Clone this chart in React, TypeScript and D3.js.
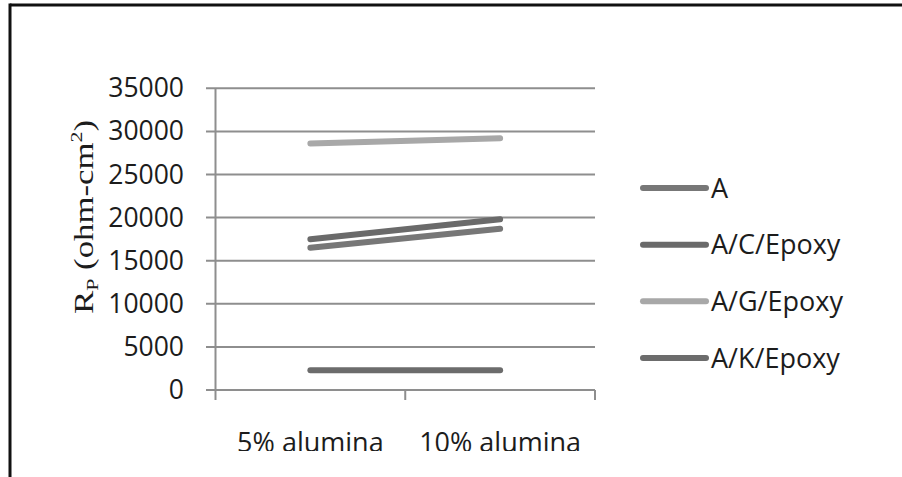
import React from "react";
import * as d3 from "d3";

// Polarization resistance by alumina loading
const categories = ["5% alumina", "10% alumina"];
const seriesNames = ["A", "A/C/Epoxy", "A/G/Epoxy", "A/K/Epoxy"];
const valuesA = [16500, 18700];
const valuesAC = [17500, 19800];
const valuesAG = [28600, 29200];
const valuesAK = [2300, 2300];
const yTicks = [0, 5000, 10000, 15000, 20000, 25000, 30000, 35000];
const seriesColors = ["#777777", "#6a6a6a", "#a8a8a8", "#6c6c6c"];

const W = 902;
const H = 477;

export default function App() {
  const x = d3.scaleBand<string>().domain(categories).range([215.5, 595]);
  const y = d3.scaleLinear().domain([0, 35000]).range([390, 88.3]);
  const line = d3
    .line<number>()
    .x((_, i) => (x(categories[i]) as number) + x.bandwidth() / 2)
    .y((v) => y(v));
  const allSeries = [valuesA, valuesAC, valuesAG, valuesAK];
  const legendY = d3.scalePoint<string>().domain(seriesNames).range([188, 358]);
  const textFill = "#1c1c1c";
  const font = "'Open Sans', sans-serif";

  return (
    <svg
      width={W}
      height={H}
      style={{ position: "absolute", left: 0, top: 0, background: "#fff" }}
    >
      <defs>
        <clipPath id="frameClip">
          <rect x={0} y={0} width={W} height={451} />
        </clipPath>
      </defs>
      <rect x={0} y={0} width={W} height={H} fill="#fff" />
      {/* frame */}
      <line x1={10} x2={W} y1={5} y2={5} stroke="#111" strokeWidth={3} />
      <line x1={10} x2={10} y1={3.5} y2={H} stroke="#111" strokeWidth={3} />

      {/* gridlines */}
      {yTicks.map((t) => (
        <line
          key={t}
          x1={206}
          x2={595}
          y1={y(t)}
          y2={y(t)}
          stroke="#8e8e8e"
          strokeWidth={2}
        />
      ))}
      {/* y axis */}
      <line x1={215.5} x2={215.5} y1={y(35000)} y2={y(0)} stroke="#8e8e8e" strokeWidth={2} />
      {/* x ticks */}
      {[215.5, (x(categories[1]) as number), 595].map((p, i) => (
        <line key={i} x1={p} x2={p} y1={y(0)} y2={400} stroke="#8e8e8e" strokeWidth={2} />
      ))}

      {/* y tick labels */}
      {yTicks.map((t) => (
        <text
          key={t}
          x={184}
          y={y(t) + 9}
          textAnchor="end"
          fontFamily={font}
          fontSize={26.5}
          fill={textFill}
        >
          {t}
        </text>
      ))}

      {/* x category labels */}
      <g clipPath="url(#frameClip)">
        {categories.map((c) => (
          <text
            key={c}
            x={(x(c) as number) + x.bandwidth() / 2}
            y={452}
            textAnchor="middle"
            fontFamily={font}
            fontSize={27}
            fill={textFill}
          >
            {c}
          </text>
        ))}
      </g>

      {/* y axis title */}
      <text
        transform="translate(93,314) rotate(-90)"
        fontFamily="'Liberation Serif', 'Times New Roman', serif"
        fontSize={27}
        fill={textFill}
        textLength={194}
        lengthAdjust="spacingAndGlyphs"
      >
        R
        <tspan fontSize={17} dy={5}>P</tspan>
        <tspan dy={-5}> (ohm-cm</tspan>
        <tspan fontSize={17} dy={-11}>2</tspan>
        <tspan dy={11}>)</tspan>
      </text>

      {/* series lines */}
      {allSeries.map((vals, i) => (
        <path
          key={seriesNames[i]}
          d={line(vals) || ""}
          fill="none"
          stroke={seriesColors[i]}
          strokeWidth={6}
          strokeLinecap="round"
        />
      ))}

      {/* legend */}
      {seriesNames.map((n, i) => {
        const ly = legendY(n) as number;
        return (
          <g key={n}>
            <line
              x1={643}
              x2={706}
              y1={ly}
              y2={ly}
              stroke={seriesColors[i]}
              strokeWidth={6}
              strokeLinecap="round"
            />
            <text x={711} y={ly + 9.5} fontFamily={font} fontSize={27} fill={textFill}>
              {n}
            </text>
          </g>
        );
      })}
    </svg>
  );
}
